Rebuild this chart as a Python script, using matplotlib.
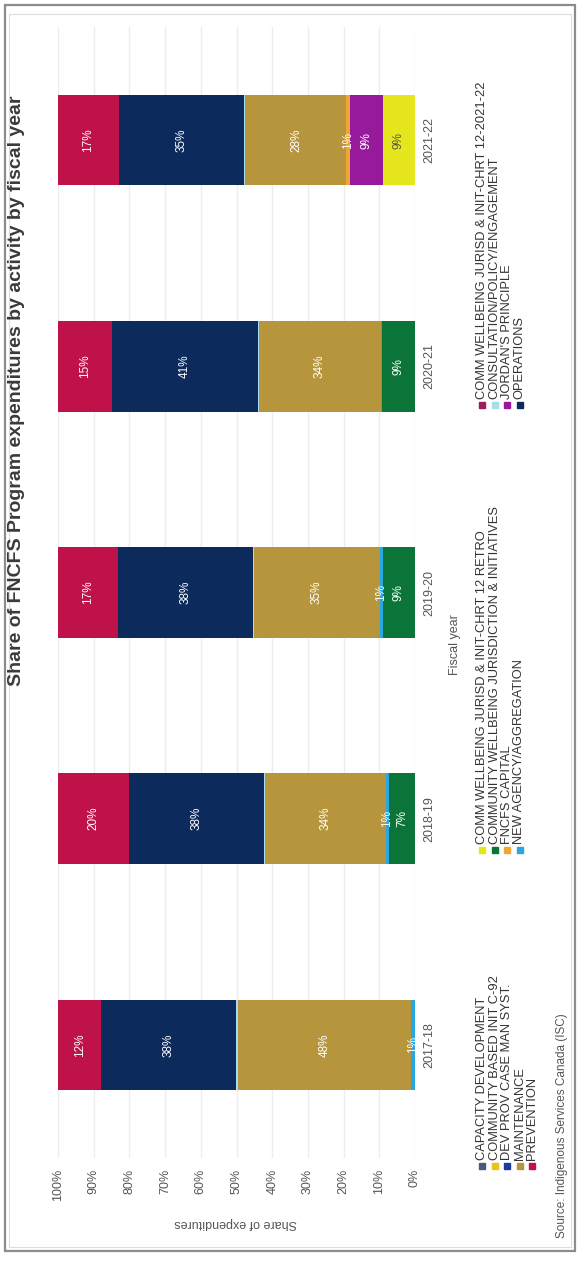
import matplotlib
matplotlib.use('Agg')
import matplotlib.pyplot as plt
from matplotlib.patches import Rectangle
import numpy as np

plt.rcParams['font.family'] = ['Liberation Sans', 'DejaVu Sans']

# fiscal years (bottom to top in the rotated layout)
years = ['2017-18', '2018-19', '2019-20', '2020-21', '2021-22']

# share of expenditures by activity, %
capacity = [0, 0, 0, 0, 0]
community_based = [0, 0, 0, 0, 0]
dev_prov = [0, 0, 0, 0, 0]
retro = [0, 0, 0, 0, 9.1]
jordans = [0, 0, 0, 0, 9.2]
comm_wb_2122 = [0, 0, 0, 0, 0]
comm_wellbeing = [0, 7.2, 9.0, 9.2, 0]
new_agency = [1.2, 1.0, 0.9, 0.4, 0]
fncfs_capital = [0, 0, 0, 0, 0.9]
maintenance = [48.4, 33.8, 35.2, 34.1, 28.3]
consultation = [0.5, 0.4, 0.4, 0.4, 0.3]
operations = [37.8, 37.6, 37.8, 40.8, 35.2]
prevention = [12.1, 20.0, 16.7, 15.1, 17.0]

colors = {
    'CAPACITY DEVELOPMENT': '#4b5876',
    'COMMUNITY BASED INIT C-92': '#e8c31c',
    'DEV PROV CASE MAN SYST.': '#1f3c9c',
    'MAINTENANCE': '#b6953c',
    'PREVENTION': '#be1249',
    'COMM WELLBEING JURISD & INIT-CHRT 12 RETRO': '#e6e61c',
    'COMMUNITY WELLBEING JURISDICTION & INITIATIVES': '#0b7438',
    'FNCFS CAPITAL': '#f0a632',
    'NEW AGENCY/AGGREGATION': '#27a8e0',
    'COMM WELLBEING JURISD & INIT-CHRT 12-2021-22': '#9a1d5e',
    'CONSULTATION/POLICY/ENGAGEMENT': '#a9dcf0',
    "JORDAN'S PRINCIPLE": '#981a9c',
    'OPERATIONS': '#0c2a5c',
}

# stacking order, starting from 0%
stack = [
    ('COMM WELLBEING JURISD & INIT-CHRT 12 RETRO', retro),
    ("JORDAN'S PRINCIPLE", jordans),
    ('COMM WELLBEING JURISD & INIT-CHRT 12-2021-22', comm_wb_2122),
    ('COMMUNITY WELLBEING JURISDICTION & INITIATIVES', comm_wellbeing),
    ('NEW AGENCY/AGGREGATION', new_agency),
    ('FNCFS CAPITAL', fncfs_capital),
    ('CAPACITY DEVELOPMENT', capacity),
    ('COMMUNITY BASED INIT C-92', community_based),
    ('DEV PROV CASE MAN SYST.', dev_prov),
    ('MAINTENANCE', maintenance),
    ('CONSULTATION/POLICY/ENGAGEMENT', consultation),
    ('OPERATIONS', operations),
    ('PREVENTION', prevention),
]

legend_cols = [
    ['CAPACITY DEVELOPMENT', 'COMMUNITY BASED INIT C-92', 'DEV PROV CASE MAN SYST.',
     'MAINTENANCE', 'PREVENTION'],
    ['COMM WELLBEING JURISD & INIT-CHRT 12 RETRO',
     'COMMUNITY WELLBEING JURISDICTION & INITIATIVES', 'FNCFS CAPITAL',
     'NEW AGENCY/AGGREGATION'],
    ['COMM WELLBEING JURISD & INIT-CHRT 12-2021-22', 'CONSULTATION/POLICY/ENGAGEMENT',
     "JORDAN'S PRINCIPLE", 'OPERATIONS'],
]

W, H = 579, 1264
fig = plt.figure(figsize=(W / 100, H / 100), dpi=100)

def fx(x):
    return x / W

def fy(y):
    return 1 - y / H

# outer frame
fig.add_artist(Rectangle((fx(5), fy(1251)), fx(570), 1246 / H, fill=False,
                         edgecolor='#8c8c8c', lw=1.6, transform=fig.transFigure))
fig.add_artist(Rectangle((fx(9), fy(1247)), fx(562), 1233 / H, fill=False,
                         edgecolor='#dddddd', lw=0.8, transform=fig.transFigure))

ax = fig.add_axes([fx(58), fy(1158), 357 / W, 1131 / H])

pos = np.arange(len(years))
left = np.zeros(len(years))
for name, vals in stack:
    v = np.array(vals) / 100
    ax.barh(pos, v, left=left, height=0.4, color=colors[name], zorder=2)
    for i in range(len(years)):
        pct = int(round(vals[i]))
        if pct >= 1:
            tc = '#555555' if name == 'COMM WELLBEING JURISD & INIT-CHRT 12 RETRO' else 'white'
            ax.text(left[i] + v[i] / 2, pos[i], f'{pct}%', rotation=90,
                    ha='center', va='center', color=tc, fontsize=8.5, zorder=3)
    left += v

ax.set_xlim(1, 0)
ax.set_ylim(-0.5, len(years) - 0.5)
ticks = np.arange(0, 1.01, 0.1)
ax.set_xticks(ticks)
ax.set_xticklabels([f'{int(round(t * 100))}%' for t in ticks], rotation=90,
                   color='#555555', fontsize=9)
ax.yaxis.tick_right()
ax.set_yticks(pos)
ax.set_yticklabels(years, rotation=90, va='center', color='#555555', fontsize=9)
ax.tick_params(axis='both', length=0)
ax.tick_params(axis='x', pad=8)
ax.tick_params(axis='y', pad=6)
ax.xaxis.grid(True, color='#ececf2', lw=1)
ax.set_axisbelow(True)
for s in ax.spines.values():
    s.set_visible(False)

fig.text(fx(17), fy(95), 'Share of FNCFS Program expenditures by activity by fiscal year',
         rotation=90, ha='center', va='top', fontsize=14, fontweight='bold',
         color='#3a3a3a')
fig.text(fx(236), fy(1223), 'Share of expenditures', rotation=180, ha='center',
         va='center', fontsize=9, color='#555555')
fig.text(fx(455), fy(645), 'Fiscal year', rotation=90, ha='center', va='center',
         fontsize=9, color='#555555')
fig.text(fx(562), fy(1238), 'Source: Indigenous Services Canada (ISC)', rotation=90,
         ha='center', va='bottom', fontsize=8.5, color='#555555')

# legend, three columns reading upward
col_start = [1166, 850, 405]
row_x = [482, 494.5, 507, 519.5, 532]
for c, entries in enumerate(legend_cols):
    for r, name in enumerate(entries):
        x = row_x[r]
        y0 = col_start[c]
        fig.add_artist(Rectangle((fx(x - 3), fy(y0 + 3)), 6 / W, 6 / H,
                                 color=colors[name], transform=fig.transFigure))
        fig.text(fx(x), fy(y0 - 6), name, rotation=90, ha='center', va='bottom',
                 fontsize=9.3, color='#333333')

fig.savefig('out.png', dpi=100)
